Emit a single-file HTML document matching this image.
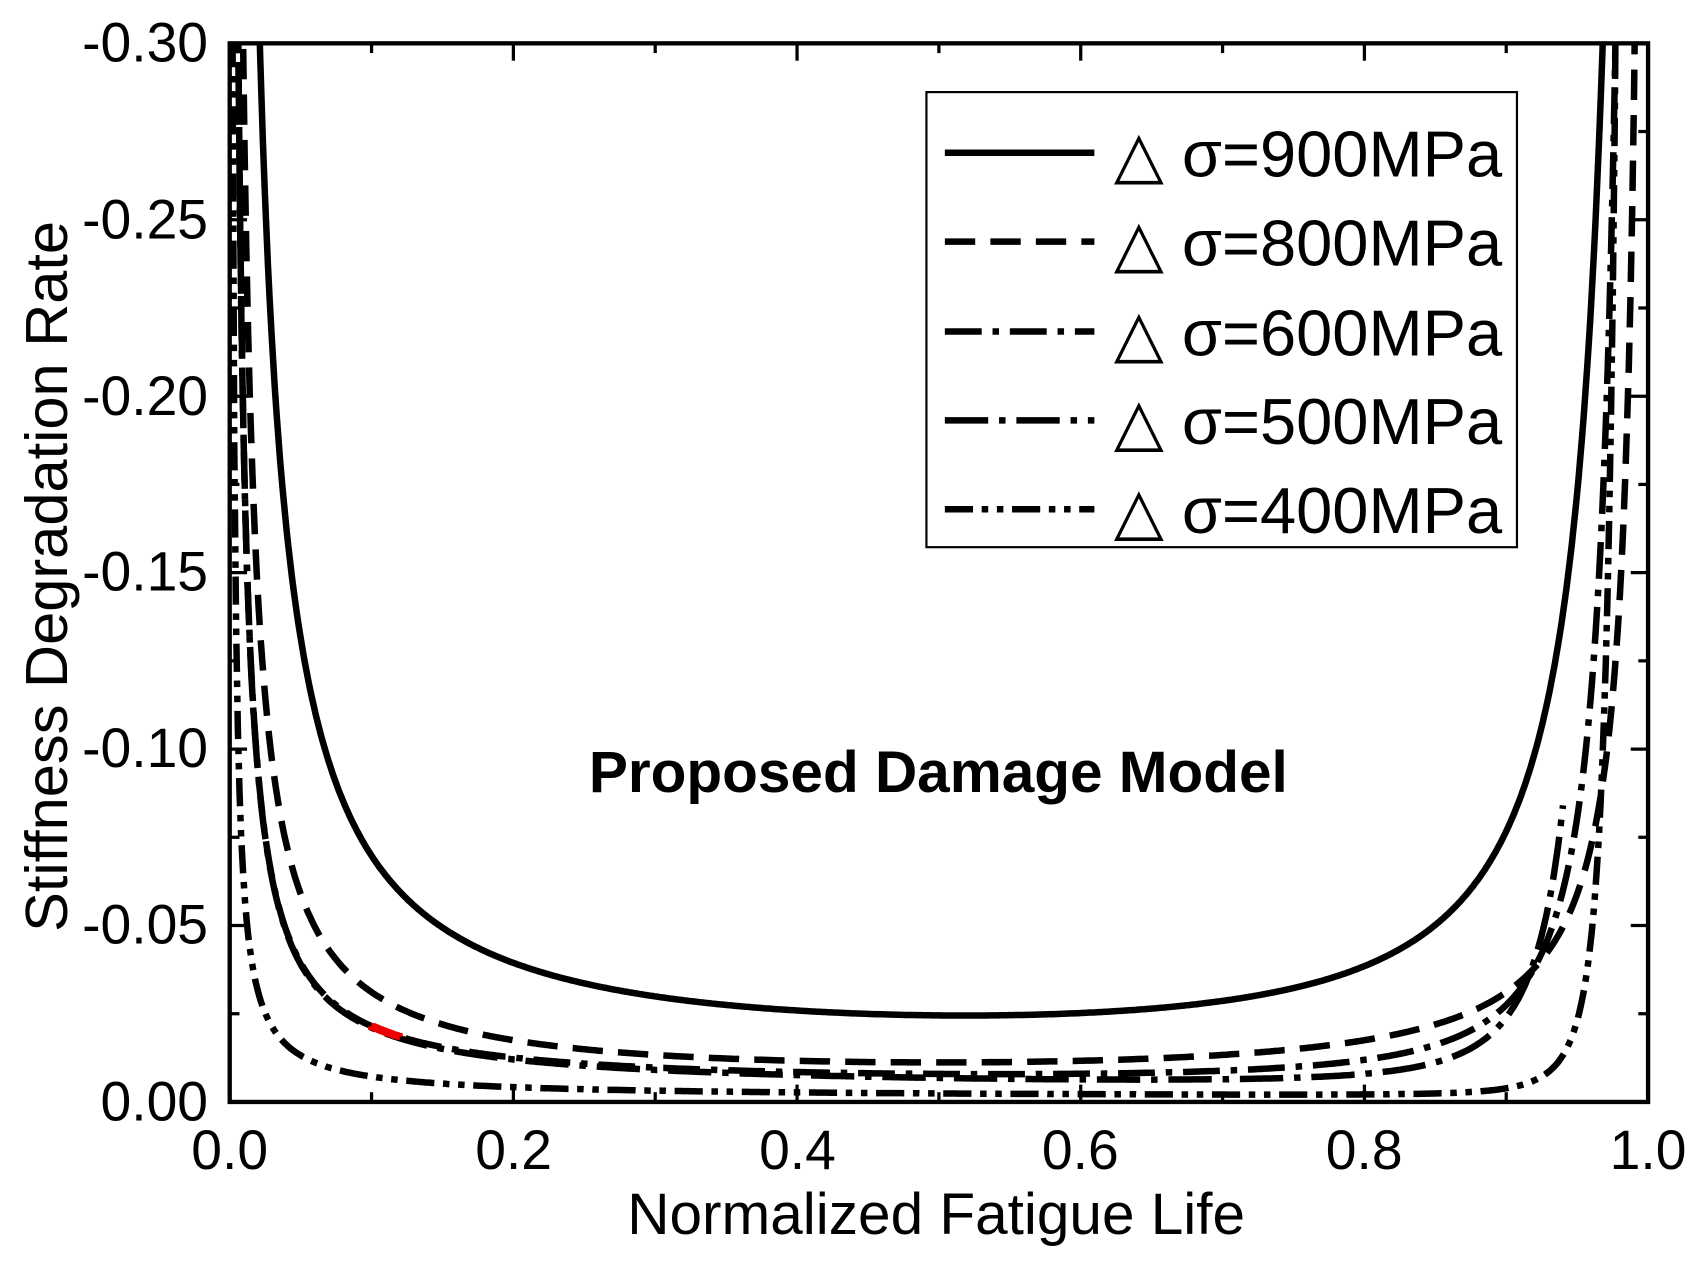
<!DOCTYPE html>
<html><head><meta charset="utf-8"><style>html,body{margin:0;padding:0;background:#fff}svg{display:block}</style></head>
<body>
<svg id="s" width="1699" height="1266" viewBox="0 0 1568 1168.4" preserveAspectRatio="none" xmlns="http://www.w3.org/2000/svg" font-family="Liberation Sans, Arial, sans-serif">
<defs><clipPath id="c"><rect x="212" y="40" width="1309" height="977"/></clipPath></defs>
<g id="curves" clip-path="url(#c)" fill="none" stroke="#000" stroke-width="6"></g>
<rect x="212" y="40" width="1309" height="977" fill="none" stroke="#000" stroke-width="4"/>
<g id="ticks" stroke="#000" stroke-width="3"></g>
<g font-size="51" fill="#000" text-anchor="end">
<text x="192" y="57">-0.30</text><text x="192" y="220">-0.25</text><text x="192" y="383">-0.20</text>
<text x="192" y="545">-0.15</text><text x="192" y="708">-0.10</text><text x="192" y="871">-0.05</text><text x="192" y="1034">0.00</text>
</g>
<g font-size="51" fill="#000" text-anchor="middle">
<text x="212" y="1079">0.0</text><text x="474" y="1079">0.2</text><text x="736" y="1079">0.4</text>
<text x="997" y="1079">0.6</text><text x="1259" y="1079">0.8</text><text x="1521" y="1079">1.0</text>
</g>
<text x="864" y="1139" font-size="54" text-anchor="middle">Normalized Fatigue Life</text>
<text transform="translate(62,532) rotate(-90)" font-size="55" text-anchor="middle">Stiffness Degradation Rate</text>
<text x="866" y="731" font-size="54" font-weight="bold" text-anchor="middle">Proposed Damage Model</text>
<rect x="855" y="85" width="545" height="420" fill="#fff" stroke="#000" stroke-width="2"/>
<g stroke="#000" stroke-width="6">
<line x1="872" y1="141" x2="1010" y2="141"/>
<line x1="872" y1="223" x2="1010" y2="223" stroke-dasharray="28,14"/>
<line x1="872" y1="306" x2="1010" y2="306" stroke-dasharray="34,10,6,10"/>
<line x1="872" y1="388" x2="1010" y2="388" stroke-dasharray="40,10,6,10"/>
<line x1="872" y1="470" x2="1010" y2="470" stroke-dasharray="26,8,6,8,6,8"/>
</g>
<g font-size="60" fill="#000">
<text x="1028" y="163">△ σ=900MPa</text><text x="1028" y="245">△ σ=800MPa</text>
<text x="1028" y="328">△ σ=600MPa</text><text x="1028" y="410">△ σ=500MPa</text>
<text x="1028" y="492">△ σ=400MPa</text>
</g>
<script>
var X=function(x){return 212+1309*x},Y=function(y){return 1017-3256.7*y};
var g=document.getElementById('curves'),t=document.getElementById('ticks');
function path(f,x0,x1,dash,col){var d='';for(var i=0;i<=800;i++){var x=x0+(x1-x0)*i/800,y=Math.min(f(x),0.35);d+=(i?'L':'M')+X(x).toFixed(1)+' '+Y(y).toFixed(1);}
var p=document.createElementNS('http://www.w3.org/2000/svg','path');p.setAttribute('d',d);if(dash)p.setAttribute('stroke-dasharray',dash);if(col)p.setAttribute('stroke',col);g.appendChild(p);}
path(function(x){return 0.0062/x+0.0033/Math.pow(1-x,1.3)+0.004},0.015,0.975);
path(function(x){return 0.0028/x+0.0028/(1-x)},0.008,0.995,'28,14');
path(function(x){return 0.0018/x+0.0004/Math.pow(1-x,1.75)+0.003},0.005,0.985,'34,10,6,10');
path(function(x){return 0.0018/x+0.00003/Math.pow(1-x,2.8)+0.003},0.005,0.94,'40,10,6,10');
path(function(x){return 0.0006/x+0.0000008/Math.pow(1-x,3.4)+0.0012},0.002,0.995,'26,8,6,8,6,8');
path(function(x){return 0.0018/x+0.0004/Math.pow(1-x,1.75)+0.003},0.10,0.12,null,'#e00');
function L(a,b,c,d){var l=document.createElementNS('http://www.w3.org/2000/svg','line');l.setAttribute('x1',a);l.setAttribute('y1',b);l.setAttribute('x2',c);l.setAttribute('y2',d);t.appendChild(l);}
for(var i=0;i<=12;i++){var y=Y(i*0.025),len=i%2?9:16;L(212,y,212+len,y);L(1521,y,1521-len,y);}
for(var i=0;i<=10;i++){var x=X(i*0.1),len=i%2?9:16;L(x,1017,x,1017-len);L(x,40,x,40+len);}
</script>
</svg>
</body></html>
